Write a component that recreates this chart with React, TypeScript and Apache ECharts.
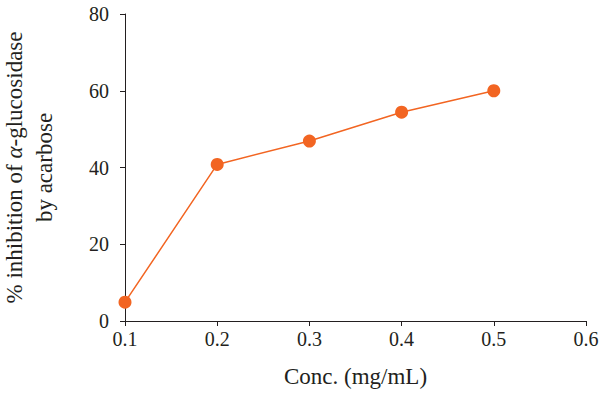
import React, { useEffect, useRef } from "react";
import * as echarts from "echarts";

const concentrations = [0.1, 0.2, 0.3, 0.4, 0.5];
const inhibition = [4.9, 40.8, 46.9, 54.4, 60.0];
const xTicks = [0.1, 0.2, 0.3, 0.4, 0.5, 0.6];
const yTicks = [0, 20, 40, 60, 80];

const FONT = "'Liberation Serif', 'DejaVu Serif', serif";
const INK = "#231f20";
const ORANGE = "#F26522";

export default function App() {
  const ref = useRef<HTMLDivElement>(null);
  useEffect(() => {
    if (!ref.current) return;
    const chart = echarts.init(ref.current, undefined, { renderer: "svg" });
    chart.setOption({
      animation: false,
      grid: {
        left: 125,
        right: 14,
        top: 14,
        bottom: 77,
        containLabel: false,
        outerBoundsMode: "none",
      },
      xAxis: {
        type: "value",
        min: xTicks[0],
        max: xTicks[xTicks.length - 1],
        interval: 0.1,
        name: "Conc. (mg/mL)",
        nameLocation: "middle",
        nameGap: 44,
        nameTextStyle: { fontFamily: FONT, fontSize: 23, color: INK },
        axisLine: { show: true, lineStyle: { color: INK, width: 1 } },
        axisTick: { show: true, length: 5, lineStyle: { color: INK } },
        axisLabel: {
          fontFamily: FONT,
          fontSize: 20,
          color: INK,
          margin: 8,
          formatter: (v: number) => v.toFixed(1),
        },
        splitLine: { show: false },
      },
      yAxis: {
        type: "value",
        min: yTicks[0],
        max: yTicks[yTicks.length - 1],
        interval: 20,
        name: "% inhibition of {i|α}-glucosidase\nby acarbose",
        nameLocation: "middle",
        nameGap: 66,
        nameTextStyle: {
          fontFamily: FONT,
          fontSize: 23,
          color: INK,
          lineHeight: 30,
          rich: {
            i: { fontFamily: FONT, fontSize: 23, fontStyle: "italic", color: INK, lineHeight: 30 },
          },
        },
        axisLine: { show: true, lineStyle: { color: INK, width: 1 } },
        axisTick: { show: true, length: 5, lineStyle: { color: INK } },
        axisLabel: { fontFamily: FONT, fontSize: 20, color: INK, margin: 16 },
        splitLine: { show: false },
      },
      series: [
        {
          type: "line",
          data: concentrations.map((c, i) => [c, inhibition[i]]),
          symbol: "circle",
          symbolSize: 13,
          lineStyle: { color: ORANGE, width: 1.5 },
          itemStyle: { color: ORANGE },
        },
      ],
    });
    return () => chart.dispose();
  }, []);
  return <div ref={ref} style={{ width: 600, height: 398, position: "absolute", left: 0, top: 0 }} />;
}
